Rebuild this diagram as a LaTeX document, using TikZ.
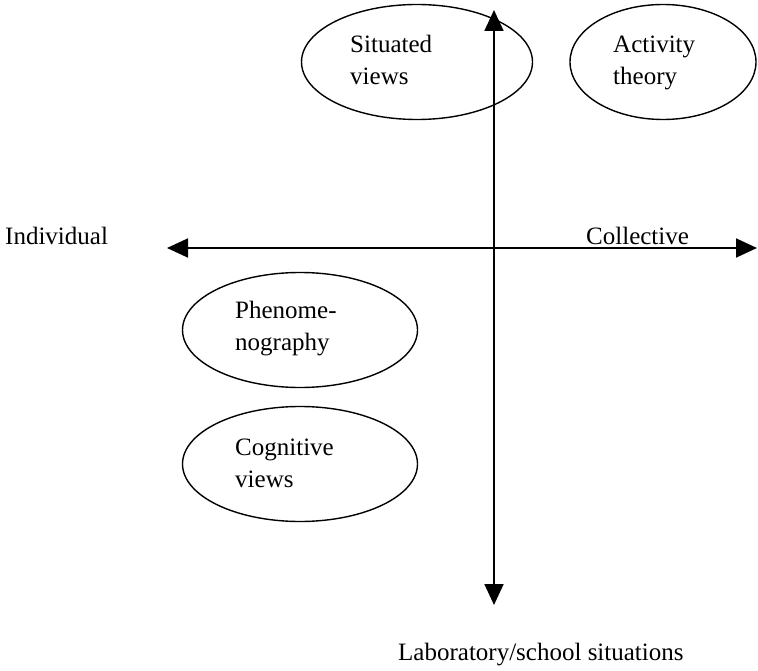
\documentclass[tikz,border=0pt]{standalone}
\usepackage{fontspec}
\setmainfont{Liberation Serif}
\usetikzlibrary{arrows.meta,shapes.geometric}
\begin{document}
\begin{tikzpicture}[x=1pt,y=-1pt,
  oval/.style={draw,ellipse,line width=1.4pt,inner sep=0pt},
  lbl/.style={font=\fontsize{25}{32}\selectfont,inner sep=0pt,align=left,anchor=base west},
  axis/.style={line width=1.8pt,{Triangle[length=21pt,width=19pt]}-{Triangle[length=21pt,width=19pt]}}]
\useasboundingbox (0,0) rectangle (758,671);
% ellipses
\node[oval,minimum width=231pt,minimum height=115pt] (sit) at (417,62) {};
\node[oval,minimum width=186pt,minimum height=115pt] (act) at (663,62) {};
\node[oval,minimum width=235pt,minimum height=115pt] (phe) at (300,330) {};
\node[oval,minimum width=235pt,minimum height=115pt] (cog) at (300,464) {};
% texts inside ellipses (base = last line)
\node[lbl] (sitt) at (350,85) {Situated\\views};
\node[lbl] (actt) at (613,85) {Activity\\theory};
\node[lbl] (phet) at (235,350) {Phenome-\\nography};
\node[lbl] (cogt) at (235,487) {Cognitive\\views};
% axes
\coordinate (top) at (494,10);
\coordinate (bot) at (494,605);
\coordinate (lft) at (167,248);
\coordinate (rgt) at (757,248);
\draw[axis] (bot) -- (top);
\draw[axis] (lft) -- (rgt);
% axis labels
\node[lbl] (ind) at (5,245) {Individual};
\node[lbl] (col) at (586,245) {Collective};
\node[lbl] (lab) at (398,660) {Laboratory/school situations};
\end{tikzpicture}
\end{document}
